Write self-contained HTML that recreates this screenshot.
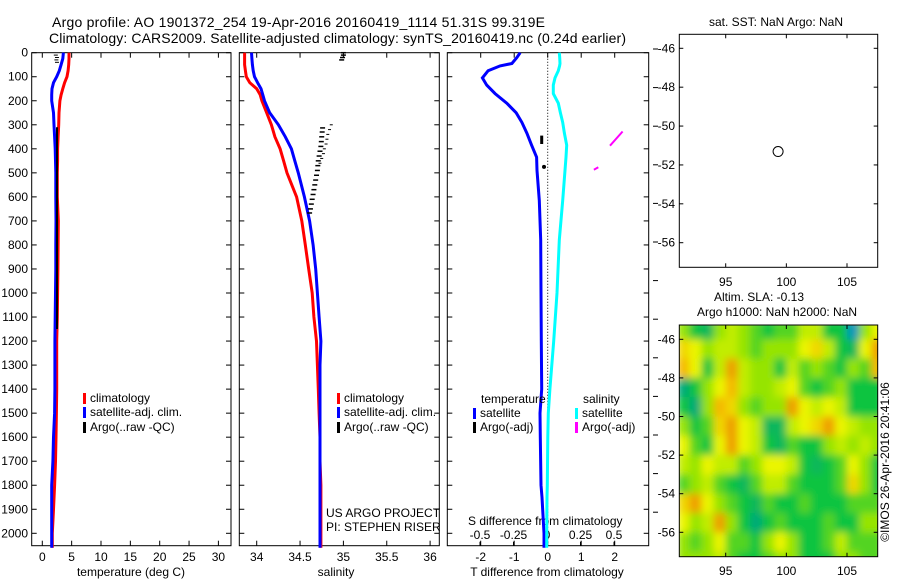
<!DOCTYPE html>
<html><head><meta charset="utf-8"><style>
html,body{margin:0;padding:0;background:#fff;}
svg{display:block;font-family:"Liberation Sans",sans-serif;}
</style></head><body>
<svg id="fig" width="900" height="580" viewBox="0 0 900 580" xmlns="http://www.w3.org/2000/svg">
<defs>
<filter id="blur" x="-5%" y="-5%" width="110%" height="110%"><feGaussianBlur stdDeviation="4" edgeMode="duplicate"/></filter>
<clipPath id="mapclip"><rect x="679.5" y="325" width="198" height="231.5"/></clipPath>
</defs>
<text x="52" y="27" font-size="14" textLength="493">Argo profile: AO 1901372_254 19-Apr-2016 20160419_1114 51.31S 99.319E</text>
<text x="49" y="43" font-size="14" textLength="577">Climatology: CARS2009. Satellite-adjusted climatology: synTS_20160419.nc (0.24d earlier)</text>
<g id="layer"></g>
</svg>
<script>
// ---- data ----
const depthLevels=[0,25,50,75,100,125,150,175,200,250,300,350,400,450,500,600,700,800,900,1000,1100,1200,1300,1400,1500,1600,1700,1800,1900,2000,2060];
const tempClim=[4.55,4.55,4.5,4.4,4.2,3.8,3.5,3.2,3.0,2.85,2.8,2.7,2.6,2.6,2.55,2.55,2.73,2.7,2.65,2.6,2.55,2.45,2.45,2.45,2.4,2.33,2.25,2.1,1.9,1.7,1.7];
const tempSat=[3.6,3.5,3.2,2.9,2.45,1.9,1.65,1.6,1.6,1.9,2.0,2.1,2.2,2.25,2.3,2.3,2.33,2.3,2.3,2.25,2.2,2.15,2.15,2.15,2.1,1.9,1.8,1.6,1.6,1.6,1.6];
const salClim=[33.86,33.86,33.86,33.87,33.88,33.92,34.0,34.04,34.06,34.115,34.17,34.21,34.27,34.31,34.35,34.46,34.52,34.56,34.60,34.64,34.66,34.69,34.70,34.71,34.72,34.73,34.73,34.74,34.74,34.74,34.74];
const salSat=[33.94,33.945,33.95,33.96,33.975,34.01,34.05,34.07,34.09,34.15,34.25,34.33,34.40,34.44,34.48,34.55,34.61,34.65,34.68,34.70,34.72,34.74,34.73,34.73,34.73,34.73,34.73,34.73,34.73,34.73,34.73];
const argoTempDepth=[10,20,30,40];
const argoTempVal=[2.3,2.5,2.4,2.5];
const argoTempLineDepth=[310,1150];
const argoTempLineVal=[2.5,2.5];
const argoSalDepth=[0,10,20,30,313,330,350,370,390,410,430,450,470,490,510,530,550,570,590,610,630,650,667];
const argoSalVal=[35.0,35.0,34.99,34.98,34.76,34.755,34.75,34.745,34.74,34.73,34.72,34.71,34.705,34.70,34.69,34.68,34.67,34.66,34.65,34.64,34.63,34.62,34.61];
const argoSalRawDepth=[300,320,340,360,380,400,420,440,460];
const argoSalRawVal=[34.86,34.84,34.82,34.81,34.80,34.78,34.77,34.75,34.73];
const diffDepth=[0,20,45,55,75,105,135,170,210,250,290,335,385,435,490,615,780,1000,1200,1400,1500,1600,1800,1850,2000,2060];
const tDiffSat=[-0.82,-0.92,-1.07,-1.42,-1.78,-1.95,-1.82,-1.57,-1.22,-0.94,-0.77,-0.62,-0.48,-0.33,-0.32,-0.25,-0.21,-0.2,-0.19,-0.18,-0.23,-0.22,-0.2,-0.17,-0.11,-0.11];
const sDiffSat=[0.092,0.095,0.097,0.094,0.084,0.06,0.047,0.047,0.084,0.1,0.117,0.13,0.147,0.142,0.134,0.117,0.092,0.075,0.05,0.022,0.01,0.006,0.002,0.0,-0.002,-0.002];
const tDiffArgoDepth=[345,380,475];
const tDiffArgoVal=[-0.18,-0.18,-0.11];
const sDiffArgoDepth=[328,387,477,487];
const sDiffArgoVal=[0.564,0.47,0.383,0.35];
const depthTicks=[0,100,200,300,400,500,600,700,800,900,1000,1100,1200,1300,1400,1500,1600,1700,1800,1900,2000];
const tempTicks=[0,5,10,15,20,25,30];
const salTicks=[34,34.5,35,35.5,36];
const salTickLabels=['34','34.5','35','35.5','36'];
const tDiffTicks=[-2,-1,0,1,2];
const sDiffTicks=[-0.5,-0.25,0,0.25,0.5];
const latTicks=[-46,-48,-50,-52,-54,-56];
const lonTicks=[95,100,105];
const profileLon=[99.319];
const profileLat=[-51.31];
const heatLons=[91.5,92.5,93.5,94.5,95.5,96.5,97.5,98.5,99.5,100.5,101.5,102.5,103.5,104.5,105.5,106.5,107.5];
const heatLats=[-45.5,-46.5,-47.5,-48.5,-49.5,-50.5,-51.5,-52.5,-53.5,-54.5,-55.5,-56.5,-57.5];
const heatVals=[
[3,2,1.5,3,3.5,3,2.5,2,2.5,2.5,3.5,3.5,2,2,0.5,3,4],
[4.5,4,3,3.5,3.5,3,2.5,3,3,3,4,4.5,3.5,2,1.5,4,5.5],
[5,4,2,3.5,5.5,3.5,3,3,2,3.5,2.5,3,2.5,2,3,2.5,5],
[1,2,3,4,5,3.5,3,3,3.5,4,2.5,2,2.5,3,2,2,2],
[2,1,3,5,4.5,3,2.5,3,3,5.5,4,3.5,4,3.5,2,2,2],
[3,2,2.5,4.5,5.5,4,3.5,1.5,1.5,3.5,4,4.5,5.5,4,3.5,3,3],
[4,2.5,2,4,5.5,4,3.5,2,1.5,2.5,2,2,3,3.5,3,3.5,3],
[3.5,3,4,3.5,3.5,2.5,3,4,4,3.5,2,1.5,2,2.5,4,3,2],
[2.5,3,3.5,2.5,2,1.5,2.5,3.5,3.5,2.5,2,2,2,2.5,4.5,3,2],
[4.5,5.5,4,3,2.5,2,1.5,2.5,2,2,2.5,2,2,2,2.5,2.5,2.5],
[4,3,3.5,5.5,3,2,1,2,2.5,2,2,2,2.5,2,2,3,3],
[3,2.5,3,4,2.5,2.5,2,3,4,3,2,2,2.5,3.5,2.5,2.5,2.5],
[3,3,3,3.5,2.5,2,2,2.5,3,3,2,2,2,3,3,2.5,2.5]];

// ---- scales ----
const yD=d=>52.7+d*0.2403;
const xT=t=>42.3+t*5.87;
const xS=s=>256.7+(s-34)*86.7;
const xTd=v=>547.7+v*33.5;
const xSd=v=>547+v*134;
const xLon=l=>725.7+(l-95)*12.13;
const yLat1=a=>48.3+(-46-a)*19.44;
const yLat2=a=>339.3+(-46-a)*19.3;

const NS='http://www.w3.org/2000/svg';
const layer=document.getElementById('layer');
function mk(tag,attrs,parent){const e=document.createElementNS(NS,tag);for(const k in attrs)e.setAttribute(k,attrs[k]);(parent||layer).appendChild(e);return e;}
function txt(x,y,s,size,anchor,name){const e=mk('text',{x:x,y:y,'font-size':size,'text-anchor':anchor||'start','dominant-baseline':'central'});e.textContent=s;


return e;}
function frame(x0,y0,x1,y1,name){const r=mk('rect',{x:x0,y:y0,width:x1-x0,height:y1-y0,fill:'none',stroke:'#000','stroke-width':1});


return r;}
function line(x1,y1,x2,y2,c,w){return mk('line',{x1:x1,y1:y1,x2:x2,y2:y2,stroke:c||'#000','stroke-width':w||1});}
function poly(xs,ys,c,w,name){const pts=xs.map((x,i)=>x.toFixed(1)+','+ys[i].toFixed(1)).join(' ');const p=mk('polyline',{points:pts,fill:'none',stroke:c,'stroke-width':w,'stroke-linejoin':'miter'});


return p;}

// ---- profile panels ----
const P1=[31.7,52.7,231,545.7],P2=[239.3,52.7,439.3,545.7],P3=[447.3,52.7,648.7,545.7];
[[P1,'temperature-panel-frame'],[P2,'salinity-panel-frame'],[P3,'difference-panel-frame']].forEach(([p,n])=>frame(p[0],p[1],p[2],p[3],n));
depthTicks.forEach(d=>{const y=yD(d);
 [P1,P2,P3].forEach(p=>{line(p[0],y,p[0]+5,y);line(p[2],y,p[2]-5,y);});
 txt(28,y,String(d),12,'end','depth-tick-label');});
tempTicks.forEach((t,i)=>{const x=xT(t);line(x,P1[3],x,P1[3]-5);line(x,P1[1],x,P1[1]+5);txt(x,557,String(t),12,'middle','temperature-tick-label');});
salTicks.forEach((s,i)=>{const x=xS(s);line(x,P2[3],x,P2[3]-5);line(x,P2[1],x,P2[1]+5);txt(x,557,salTickLabels[i],12,'middle','salinity-tick-label');});
tDiffTicks.forEach(v=>{const x=xTd(v);line(x,P3[3],x,P3[3]-5);line(x,P3[1],x,P3[1]+5);txt(x,557,String(v),12,'middle','t-diff-tick-label');});
sDiffTicks.forEach(v=>{const x=xSd(v);line(x,P3[3],x,P3[3]-4);txt(x,535,String(v),12,'middle','s-diff-tick-label');});
for(let i=0;i<13;i++){const y=49+i*38.6;if(y<546)line(653,y,658,y);}
txt(131,572,'temperature (deg C)',12,'middle','temperature-axis-title');
txt(336,572,'salinity',12,'middle','salinity-axis-title');
txt(547,572,'T difference from climatology',12,'middle','t-diff-axis-title');
txt(468,521,'S difference from climatology',12,'start','s-diff-axis-title');
// zero line
const z=mk('line',{x1:xTd(0),y1:P3[1],x2:xTd(0),y2:P3[3],stroke:'#000','stroke-width':1,'stroke-dasharray':'1,2'});



const ys=depthLevels.map(yD);
poly(tempClim.map(xT),ys,'#ff0000',3,'temperature-climatology-line');
poly(tempSat.map(xT),ys,'#0000ff',3,'temperature-satellite-line');
poly(argoTempLineVal.map(xT),argoTempLineDepth.map(yD),'#000',2,'argo-temperature-line');
argoTempDepth.forEach((d,i)=>{const x=xT(argoTempVal[i]);const e=line(x-2,yD(d),x+2,yD(d),'#000',1);

});
poly(salClim.map(xS),ys,'#ff0000',3,'salinity-climatology-line');
poly(salSat.map(xS),ys,'#0000ff',3,'salinity-satellite-line');
argoSalDepth.forEach((d,i)=>{const x=xS(argoSalVal[i]);const e=line(x-2.5,yD(d),x+2.5,yD(d),'#000',1.5);

});
argoSalRawDepth.forEach((d,i)=>{const x=xS(argoSalRawVal[i]);const e=line(x-1.5,yD(d),x+1.5,yD(d),'#000',1);

});
const dys=diffDepth.map(yD);
poly(tDiffSat.map(xTd),dys,'#0000ff',3,'t-diff-satellite-line');
poly(sDiffSat.map(xSd),dys,'#00ffff',3,'s-diff-satellite-line');
poly(tDiffArgoVal.slice(0,2).map(xTd),tDiffArgoDepth.slice(0,2).map(yD),'#000',3,'t-diff-argo-segment');
{const e=mk('circle',{cx:xTd(tDiffArgoVal[2]),cy:yD(tDiffArgoDepth[2]),r:2,fill:'#000'});

}
poly(sDiffArgoVal.slice(0,2).map(xSd),sDiffArgoDepth.slice(0,2).map(yD),'#ff00ff',2,'s-diff-argo-segment-1');
poly(sDiffArgoVal.slice(2).map(xSd),sDiffArgoDepth.slice(2).map(yD),'#ff00ff',2,'s-diff-argo-segment-2');

// legends
function legend(x,y,c,label,name){const r=mk('rect',{x:x,y:y-5,width:3,height:11,fill:c});


txt(x+7,y,label,12,'start',name);}
legend(83,398,'#ff0000','climatology','legend-climatology');
legend(83,412,'#0000ff','satellite-adj. clim.','legend-satellite');
legend(83,427,'#000','Argo(..raw -QC)','legend-argo');
legend(337,398,'#ff0000','climatology','legend-climatology-sal');
legend(337,412,'#0000ff','satellite-adj. clim.','legend-satellite-sal');
legend(337,427,'#000','Argo(..raw -QC)','legend-argo-sal');
txt(481,399,'temperature',12,'start','legend-temperature-header');
txt(583,399,'salinity',12,'start','legend-salinity-header');
legend(473,413,'#0000ff','satellite','legend-t-satellite');
legend(473,427,'#000','Argo(-adj)','legend-t-argo');
legend(575,413,'#00ffff','satellite','legend-s-satellite');
legend(575,427,'#ff00ff','Argo(-adj)','legend-s-argo');
txt(326,513,'US ARGO PROJECT',12,'start','project-label');
txt(326,527,'PI: STEPHEN RISER',12,'start','pi-label');

// ---- SST map ----
const M1=[679.3,34.3,877.7,267.3];
frame(M1[0],M1[1],M1[2],M1[3],'sst-map-frame');
txt(776,22,'sat. SST: NaN Argo: NaN',12,'middle','sst-map-title');
latTicks.forEach(a=>{const y=yLat1(a);line(M1[0],y,M1[0]+4,y);line(M1[2],y,M1[2]-4,y);txt(675,y,String(a),12,'end','sst-lat-tick-label');});
lonTicks.forEach(l=>{const x=xLon(l);line(x,M1[3],x,M1[3]-4);line(x,M1[1],x,M1[1]+4);txt(x,282,String(l),12,'middle','sst-lon-tick-label');});
{const c=mk('circle',{cx:xLon(profileLon[0]),cy:yLat1(profileLat[0]),r:5,fill:'none',stroke:'#000','stroke-width':1});

}

// ---- SLA map ----
const M2=[679.3,325,877.7,556.7];
txt(759,297,'Altim. SLA: -0.13',12,'middle','sla-map-title');
txt(777,312,'Argo h1000: NaN h2000: NaN',12,'middle','sla-map-subtitle');
const stops=[[0,[0,128,255]],[1,[0,170,120]],[2,[16,196,64]],[3,[150,228,0]],[4,[235,245,0]],[5,[245,185,0]],[6,[230,130,0]]];
function col(v){v=Math.max(0,Math.min(6,v));const i=Math.min(5,Math.floor(v));const f=v-i;const a=stops[i][1],b=stops[i+1][1];
return 'rgb('+a.map((c,k)=>Math.round(c+(b[k]-c)*f)).join(',')+')';}
const cg=mk('g',{'clip-path':'url(#mapclip)'});


const hg=mk('g',{filter:'url(#blur)'},cg);
heatLats.forEach((a,r)=>heatLons.forEach((l,c)=>{
 const x0=xLon(l-0.5),x1=xLon(l+0.5),y0=yLat2(a+0.5),y1=yLat2(a-0.5);
 const e=mk('rect',{x:x0.toFixed(1),y:y0.toFixed(1),width:(x1-x0+0.5).toFixed(1),height:(y1-y0+0.5).toFixed(1),fill:col(heatVals[r][c])},hg);
 
 
}));
frame(M2[0],M2[1],M2[2],M2[3],'sla-map-frame');
latTicks.forEach(a=>{const y=yLat2(a);line(M2[0],y,M2[0]+4,y);line(M2[2],y,M2[2]-4,y);txt(675,y,String(a),12,'end','sla-lat-tick-label');});
lonTicks.forEach(l=>{const x=xLon(l);line(x,M2[3],x,M2[3]-4);line(x,M2[1],x,M2[1]+4);txt(x,571,String(l),12,'middle','sla-lon-tick-label');});
{const t=txt(0,0,'©IMOS 26-Apr-2016 20:41:06',12,'middle','copyright-timestamp');t.setAttribute('transform','translate(885,462) rotate(-90)');}
</script>
</body></html>
